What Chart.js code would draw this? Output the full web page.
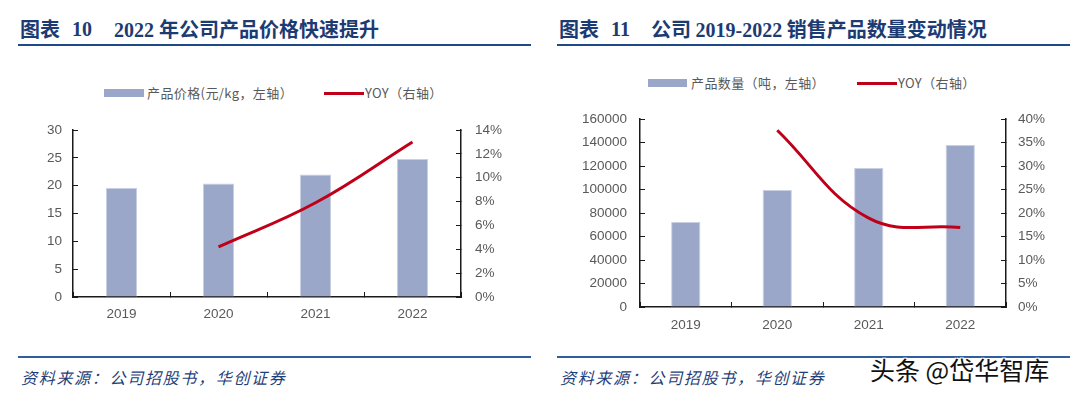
<!DOCTYPE html>
<html>
<head>
<meta charset="utf-8">
<script src="https://cdn.jsdelivr.net/npm/chart.js@4.4.1/dist/chart.umd.min.js"></script>
<style>
  body { margin: 0; width: 1080px; height: 396px; background: #fff; position: relative; overflow: hidden; }
  .abs { position: absolute; white-space: pre; }
  .title { top: 19px; font-size: 20px; line-height: 20px; color: #1d3b73; font-weight: 700; }
  .cn { font-family: "Noto Sans CJK SC", sans-serif; }
  .num { font-family: "Liberation Serif", "Noto Sans CJK SC", serif; }
  .topLine { top: 44px; height: 2px; background: #1f4a8a; }
  .botLine { top: 356px; height: 2px; background: #2f5d9e; }
  .legendTxt { font-family: "Noto Sans CJK SC", sans-serif; font-size: 13px; line-height: 13px; color: #595959; letter-spacing: 0.4px; }
  .source { top: 369px; font-family: "Noto Sans CJK SC", sans-serif; font-style: italic; font-size: 16px; line-height: 16px; letter-spacing: 1.7px; color: #1f3f7a; }
  canvas { position: absolute; }
  .mark { left: 870px; top: 356px; font-family: "Noto Sans CJK SC", sans-serif; font-size: 25px; line-height: 26px; color: #111;
    text-shadow: -1px -1px 0 #fff, 1px -1px 0 #fff, -1px 1px 0 #fff, 1px 1px 0 #fff, 0 0 2px #fff; }
</style>
</head>
<body>

<!-- left chart heading -->
<div class="abs title cn" style="left:20px;">图表</div>
<div class="abs title num" style="left:72px;">10</div>
<div class="abs title num" style="left:114px;">2022 <span class="cn">年公司产品价格快速提升</span></div>
<div class="abs topLine" style="left:18px; width:513px;"></div>

<!-- right chart heading -->
<div class="abs title cn" style="left:559px;">图表</div>
<div class="abs title num" style="left:611px;">11</div>
<div class="abs title cn" style="left:651px;">公司 <span class="num">2019-2022</span> 销售产品数量变动情况</div>
<div class="abs topLine" style="left:557px; width:513px;"></div>

<!-- legends -->
<div class="abs" style="left:104px; top:89px; width:40px; height:8px; background:#9ba7c9;"></div>
<div class="abs legendTxt" style="left:147px; top:86px;">产品价格(元/kg，左轴）</div>
<div class="abs" style="left:324px; top:92px; width:40px; height:3px; background:#c00018;"></div>
<div class="abs legendTxt" style="left:365px; top:86px;">YOY（右轴）</div>

<div class="abs" style="left:648px; top:79px; width:39px; height:8px; background:#9ba7c9;"></div>
<div class="abs legendTxt" style="left:691px; top:76px;">产品数量（吨，左轴）</div>
<div class="abs" style="left:857px; top:82px; width:40px; height:3px; background:#c00018;"></div>
<div class="abs legendTxt" style="left:898px; top:76px;">YOY（右轴）</div>

<canvas id="priceChart" width="540" height="240" style="left:0px; top:100px;"></canvas>
<canvas id="volumeChart" width="540" height="250" style="left:540px; top:90px;"></canvas>

<!-- footers -->
<div class="abs botLine" style="left:18px; width:513px;"></div>
<div class="abs source" style="left:21px;">资料来源：公司招股书，华创证券</div>
<div class="abs botLine" style="left:557px; width:513px;"></div>
<div class="abs source" style="left:560px;">资料来源：公司招股书，华创证券</div>
<div class="abs mark">头条 @岱华智库</div>

<script>
const years = ['2019', '2020', '2021', '2022'];

// left: price (yuan/kg) and YOY %
const priceValues = [19.6, 20.4, 22.0, 24.8];
const priceYoy = [null, 4.2, 7.9, 13.0];

// right: sales volume (tons) and YOY %
const volumeValues = [72300, 99600, 118200, 137800];
const volumeYoy = [null, 37.6, 18.9, 16.9];

const barFill = '#9ba7c9';
const barEdge = '#c9d0e3';
const lineRed = '#c00018';
const axisColor = '#1a1a1a';
const labelColor = '#595959';
const tickFont = { family: 'Liberation Sans, Arial, sans-serif', size: 13.5 };

// all tick marks in the reference point inward, hence the negative tickLength
function axisGrid() {
  return { display: true, drawOnChartArea: false, drawTicks: true, tickLength: -5, tickColor: axisColor, lineWidth: 1 };
}
function axisBorder() {
  return { display: true, color: axisColor, width: 1.5 };
}

function makeChart(canvasId, box, barData, yoyData, leftMax, leftStep, rightMax, rightStep) {
  const ctx = document.getElementById(canvasId).getContext('2d');
  return new Chart(ctx, {
    type: 'bar',
    data: {
      labels: years,
      datasets: [
        {
          type: 'line',
          data: yoyData,
          yAxisID: 'y1',
          borderColor: lineRed,
          borderWidth: 3,
          pointRadius: 0,
          tension: 0.4,
          fill: false,
          order: 0
        },
        {
          type: 'bar',
          data: barData,
          yAxisID: 'y',
          backgroundColor: barFill,
          borderColor: barEdge,
          borderWidth: 1,
          categoryPercentage: 1,
          barPercentage: 0.32,
          order: 1
        }
      ]
    },
    options: {
      responsive: false,
      animation: false,
      layout: { padding: { top: box.top, left: 0, right: 0, bottom: 0 } },
      plugins: { legend: { display: false }, tooltip: { enabled: false } },
      scales: {
        x: {
          grid: axisGrid(),
          border: axisBorder(),
          ticks: { color: labelColor, font: tickFont, padding: box.xPad, maxRotation: 0 },
          afterFit: (scale) => { scale.height = box.xHeight; }
        },
        y: {
          position: 'left',
          min: 0,
          max: leftMax,
          grid: axisGrid(),
          border: axisBorder(),
          ticks: { stepSize: leftStep, color: labelColor, font: tickFont, padding: box.leftPad,
            callback: (v) => String(v) },
          afterFit: (scale) => { scale.width = box.leftWidth; }
        },
        y1: {
          position: 'right',
          min: 0,
          max: rightMax,
          grid: axisGrid(),
          border: axisBorder(),
          ticks: { stepSize: rightStep, color: labelColor, font: tickFont, padding: box.rightPad,
            callback: (v) => v + '%' },
          afterFit: (scale) => { scale.width = box.rightWidth; }
        }
      }
    }
  });
}

makeChart('priceChart',
  { top: 30, xHeight: 43, xPad: 14, leftWidth: 73, leftPad: 16, rightWidth: 79, rightPad: 19 },
  priceValues, priceYoy, 30, 5, 14, 2);

makeChart('volumeChart',
  { top: 29, xHeight: 33, xPad: 15, leftWidth: 100, leftPad: 18, rightWidth: 74, rightPad: 17 },
  volumeValues, volumeYoy, 160000, 20000, 40, 5);
</script>
</body>
</html>
